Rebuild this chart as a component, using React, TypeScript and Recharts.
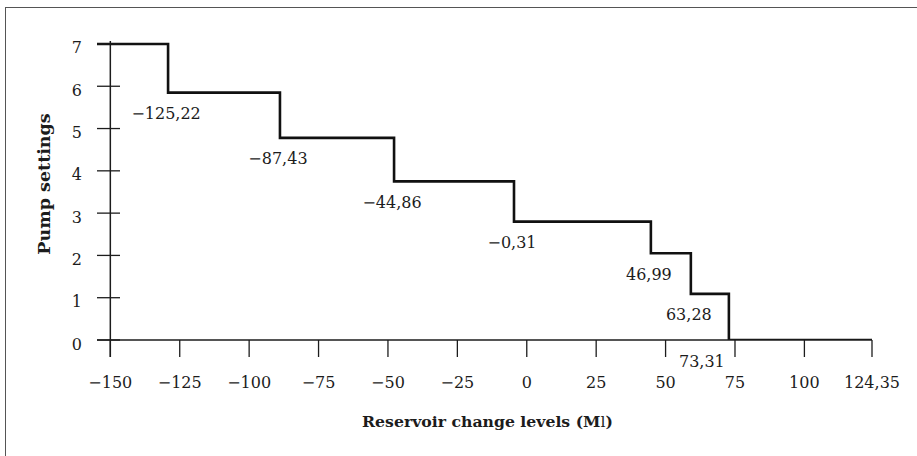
import { LineChart, Line, XAxis, YAxis, ReferenceLine, LabelList, Label } from 'recharts';

// step breakpoints (x where each pump level starts) and plotted level
const changeLevels = [-154.8, -129.2, -88.9, -47.8, -4.6, 44.7, 59.1, 72.8, 124.35];
const pumpLevels = [7, 5.85, 4.78, 3.75, 2.8, 2.05, 1.09, 0, 0];
const breakLabels = ['', '−125,22', '−87,43', '−44,86', '−0,31', '46,99', '63,28', '73,31', ''];

const xTicks = [-150, -125, -100, -75, -50, -25, 0, 25, 50, 75, 100, 124.35];
const yTicks = [0, 1, 2, 3, 4, 5, 6, 7];

const data = changeLevels.map((x, i) => ({ x, y: pumpLevels[i], label: breakLabels[i] }));

const FONT = "'DejaVu Serif', serif";
const INK = '#1c1c1c';

const fmt = (v: number) => {
  const s = String(Math.abs(v)).replace('.', ',');
  return v < 0 ? '−' + s : s;
};

function YTick({ x, y, payload }: any) {
  return (
    <g>
      <line x1={x} x2={x + 23} y1={y} y2={y} stroke={INK} strokeWidth={1.3} />
      <text x={x - 15} y={y + 4} textAnchor='end' dominantBaseline='central' fontFamily={FONT} fontSize={16} fill={INK}>
        {payload.value}
      </text>
    </g>
  );
}

function StepLabel({ x, y, index }: any) {
  const text = breakLabels[index];
  if (!text) return null;
  const shift = index === 7 ? -25 : 0;
  return (
    <text x={x + shift - 2} y={y + 21} textAnchor='middle' dominantBaseline='central' fontFamily={FONT} fontSize={16} fill={INK}>
      {text}
    </text>
  );
}

export default function App() {
  return (
    <div style={{ position: 'absolute', left: 0, top: 0, width: 917, height: 456, overflow: 'hidden', background: '#fff' }}>
      <div
        style={{
          position: 'absolute',
          left: 5,
          top: 7,
          width: 1000,
          height: 1000,
          border: '1.5px solid #555',
          boxSizing: 'border-box',
        }}
      />
      <div style={{ position: 'absolute', left: 0, top: 0 }}>
        <LineChart width={917} height={456} data={data} margin={{ top: 41, right: 45, left: 0, bottom: 0 }}>
          <XAxis
            dataKey='x'
            type='number'
            domain={[-154.8, 124.35]}
            ticks={xTicks}
            interval={0}
            allowDataOverflow
            height={116}
            tickSize={17}
            tickMargin={20}
            tickFormatter={fmt}
            axisLine={{ stroke: INK, strokeWidth: 1.5 }}
            tickLine={{ stroke: INK, strokeWidth: 1.3 }}
            tick={{ fontFamily: FONT, fontSize: 16, fill: INK }}
          >
            <Label
              position='insideBottom'
              offset={30}
              content={({ viewBox }: any) => (
                <text
                  x={viewBox.x + viewBox.width / 2 + 3}
                  y={viewBox.y + viewBox.height - 29}
                  textAnchor='middle'
                  fontFamily={FONT}
                  fontSize={15.7}
                  fontWeight='bold'
                  fill={INK}
                >
                  Reservoir change levels (M<tspan fontWeight='normal'>l</tspan>)
                </text>
              )}
            />
          </XAxis>
          <YAxis
            type='number'
            domain={[0, 7.07]}
            ticks={yTicks}
            interval={0}
            allowDataOverflow
            width={97}
            tickSize={0}
            tickMargin={0}
            axisLine={false}
            tickLine={false}
            tick={<YTick />}
          >
            <Label
              content={({ viewBox }: any) => (
                <text
                  x={44}
                  y={viewBox.y + 143}
                  transform={`rotate(-90 44 ${viewBox.y + 143})`}
                  textAnchor='middle'
                  dominantBaseline='central'
                  fontFamily={FONT}
                  fontSize={17.5}
                  fontWeight='bold'
                  fill={INK}
                >
                  Pump settings
                </text>
              )}
            />
          </YAxis>
          <ReferenceLine
            segment={[
              { x: -150, y: -0.4 },
              { x: -150, y: 7.07 },
            ]}
            stroke={INK}
            strokeWidth={1.5}
            ifOverflow='visible'
          />
          <Line
            type='stepAfter'
            dataKey='y'
            stroke='#111'
            strokeWidth={2.6}
            dot={false}
            isAnimationActive={false}
          >
            <LabelList dataKey='label' content={<StepLabel />} />
          </Line>
        </LineChart>
      </div>
    </div>
  );
}
